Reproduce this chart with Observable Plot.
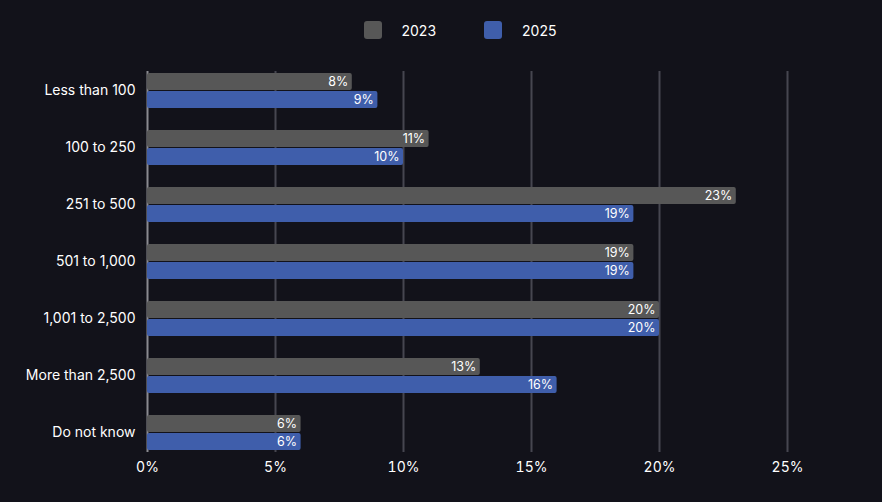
<!DOCTYPE html>
<html>
<head>
<meta charset="utf-8">
<script src="https://cdn.jsdelivr.net/npm/d3@7"></script>
<script src="https://cdn.jsdelivr.net/npm/@observablehq/plot@0.6"></script>
<style>
  html, body { margin: 0; padding: 0; background: #12121a; }
  body { width: 882px; height: 502px; overflow: hidden; font-family: Inter, "Noto Sans", sans-serif; color: #fff; }
  #legend { height: 60px; display: flex; justify-content: center; align-items: center; padding-left: 38px; box-sizing: border-box; }
  .item { display: flex; align-items: center; font-size: 14px; margin: 0 24px; }
  .sw { width: 18px; height: 18px; border-radius: 3px; margin-right: 20px; }
  #chart svg { display: block; }
</style>
</head>
<body>
<div id="legend"></div>
<div id="chart"></div>
<script>
const categories = ["Less than 100", "100 to 250", "251 to 500", "501 to 1,000", "1,001 to 2,500", "More than 2,500", "Do not know"];
const years = ["2023", "2025"];
const values2023 = [8, 11, 23, 19, 20, 13, 6];
const values2025 = [9, 10, 19, 19, 20, 16, 6];
const xTicks = [0, 5, 10, 15, 20, 25];
const colors = ["#575757", "#3f5eab"];

const rows2023 = categories.map((c, i) => ({category: c, year: "2023", value: values2023[i]}));
const rows2025 = categories.map((c, i) => ({category: c, year: "2025", value: values2025[i]}));

const legend = document.getElementById("legend");
years.forEach((y, i) => {
  const it = document.createElement("div");
  it.className = "item";
  it.innerHTML = `<div class="sw" style="background:${colors[i]}"></div><span>${y}</span>`;
  legend.appendChild(it);
});

const half = 18;   // half of band (px) used for stacking the two bars in a group
const chart = Plot.plot({
  width: 882,
  height: 442,
  marginTop: 11,
  marginBottom: 50,
  marginLeft: 147,
  marginRight: 95,
  style: {background: "#12121a", color: "#fff", fontFamily: "Inter, 'Noto Sans', sans-serif", fontSize: "14px"},
  x: {domain: [0, 25], ticks: xTicks, tickFormat: d => d + "%", label: null, tickSize: 0, tickPadding: 10},
  y: {domain: categories, paddingInner: 0.39, paddingOuter: 0, label: null, tickSize: 0, tickPadding: 12},
  color: {domain: years, range: colors},
  marks: [
    Plot.ruleX(xTicks.filter(d => d > 0), {stroke: "#464650", strokeWidth: 2}),
    Plot.ruleX([0], {stroke: "#8a8a90", strokeWidth: 2}),
    Plot.barX(rows2023, {y: "category", x: "value", fill: "year", rx: 2, insetBottom: half}),
    Plot.barX(rows2025, {y: "category", x: "value", fill: "year", rx: 2, insetTop: half}),
    Plot.text(rows2023, {y: "category", x: "value", text: d => d.value + "%", textAnchor: "end", dx: -4, dy: -9, fill: "#fff", fontSize: 12.5}),
    Plot.text(rows2025, {y: "category", x: "value", text: d => d.value + "%", textAnchor: "end", dx: -4, dy: 9, fill: "#fff", fontSize: 12.5})
  ]
});
document.getElementById("chart").appendChild(chart);
</script>
</body>
</html>
